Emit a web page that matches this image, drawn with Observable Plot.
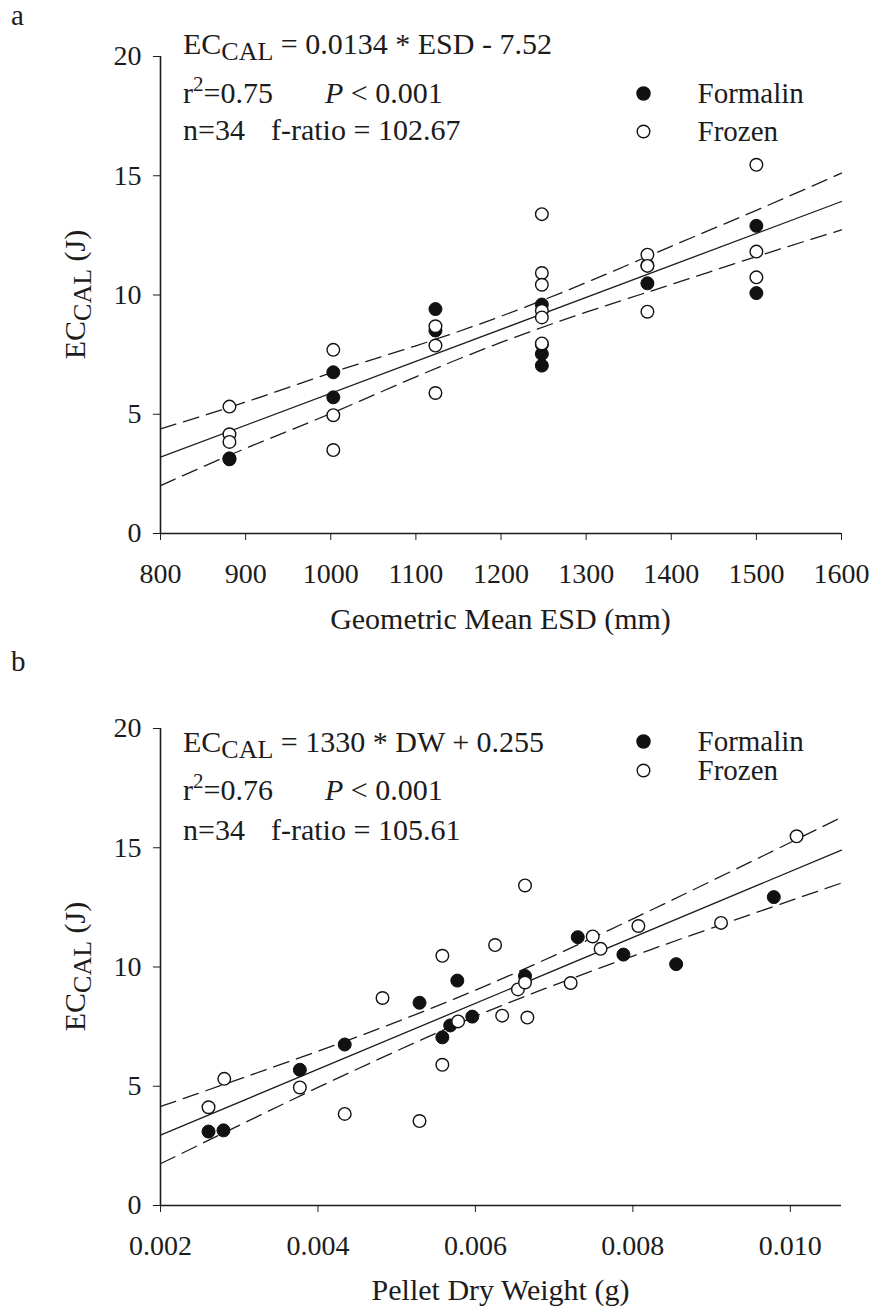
<!DOCTYPE html>
<html>
<head>
<meta charset="utf-8">
<script src="https://cdn.jsdelivr.net/npm/d3@7"></script>
<script src="https://cdn.jsdelivr.net/npm/@observablehq/plot@0.6"></script>
<style>
  html, body { margin: 0; padding: 0; background: #fff; }
  #wrap { position: relative; width: 877px; height: 1308px; overflow: hidden; }
  .panel { position: absolute; left: 0; }
  svg text { white-space: pre; }
</style>
</head>
<body>
<div id="wrap"></div>
<script>
// ---------------- DATA ----------------
// Panel a: energy content vs geometric mean ESD
const aFormalinESD = [881, 881, 1003, 1003, 1123, 1123, 1248, 1248, 1248, 1248, 1372, 1372, 1500, 1500];
const aFormalinEC  = [3.11, 3.15, 6.76, 5.71, 9.41, 8.51, 9.60, 7.92, 7.53, 7.04, 10.49, 11.25, 12.90, 10.08];
const aFrozenESD   = [881, 881, 881, 1003, 1003, 1003, 1123, 1123, 1123, 1248, 1248, 1248, 1248, 1248, 1248, 1372, 1372, 1372, 1500, 1500, 1500];
const aFrozenEC    = [5.32, 4.16, 3.84, 7.70, 4.96, 3.50, 8.69, 7.88, 5.89, 13.39, 10.92, 10.43, 9.34, 9.06, 7.97, 11.69, 11.22, 9.30, 15.46, 11.82, 10.74];
const aFitX   = [800, 1600];
const aFitY   = [3.20, 13.92];
const aBandX  = [800, 900, 1000, 1100, 1200, 1300, 1400, 1500, 1600];
const aBandHi = [4.39, 5.51, 6.73, 7.87, 9.11, 10.52, 12.04, 13.55, 15.11];
const aBandLo = [2.01, 3.57, 5.03, 6.57, 8.01, 9.28, 10.44, 11.61, 12.73];
const aXTicks = [800, 900, 1000, 1100, 1200, 1300, 1400, 1500, 1600];

// Panel b: energy content vs pellet dry weight
const bFormalinDW = [0.00261, 0.00280, 0.00377, 0.00434, 0.00529, 0.00558, 0.00568, 0.00577, 0.00596, 0.00663, 0.00730, 0.00788, 0.00855, 0.00979];
const bFormalinEC = [3.10, 3.15, 5.69, 6.75, 8.50, 7.05, 7.55, 9.43, 7.92, 9.62, 11.25, 10.52, 10.12, 12.93];
const bFrozenDW   = [0.00261, 0.00281, 0.00377, 0.00434, 0.00482, 0.00529, 0.00558, 0.00558, 0.00578, 0.00625, 0.00634, 0.00654, 0.00663, 0.00663, 0.00666, 0.00721, 0.00749, 0.00759, 0.00807, 0.00912, 0.01008];
const bFrozenEC   = [4.12, 5.31, 4.95, 3.84, 8.70, 3.54, 10.47, 5.90, 7.72, 10.92, 7.96, 9.06, 13.42, 9.35, 7.88, 9.33, 11.28, 10.76, 11.72, 11.85, 15.48];
const bFitX   = [0.002, 0.01065];
const bFitY   = [2.95, 14.90];
const bBandX  = [0.002, 0.003, 0.004, 0.005, 0.006, 0.007, 0.008, 0.009, 0.010, 0.01065];
const bBandHi = [4.15, 5.30, 6.47, 7.70, 9.03, 10.48, 12.02, 13.61, 15.22, 16.28];
const bBandLo = [1.75, 3.36, 4.95, 6.48, 7.93, 9.24, 10.46, 11.63, 12.78, 13.52];
const bXTicks = [0.002, 0.004, 0.006, 0.008, 0.010];

const yTicks = [0, 5, 10, 15, 20];
const seriesNames = ["Formalin", "Frozen"];

// Text
const panelLetters = ["a", "b"];
const aEq = ["EC", "CAL", " = 0.0134 * ESD - 7.52"];
const bEq = ["EC", "CAL", " = 1330 * DW + 0.255"];
const aStats = ["0.75", "0.001", "34", "102.67"];
const bStats = ["0.76", "0.001", "34", "105.61"];
const xTitles = ["Geometric Mean ESD (mm)", "Pellet Dry Weight (g)"];
const yTitle = ["EC", "CAL", " (J)"];

// ---------------- DRAW ----------------
const FONT = '"Liberation Serif", "Times New Roman", Times, serif';
const INK = "#1c1c1c";

function zip(xs, ys) { return xs.map((x, i) => ({x, y: ys[i]})); }

function addText(svg, x, y, parts, opts = {}) {
  const t = d3.select(svg).append("text")
    .attr("font-family", FONT)
    .attr("fill", INK)
    .attr("text-anchor", opts.anchor || "start");
  if (opts.rotate) t.attr("transform", `translate(${x},${y}) rotate(${opts.rotate})`);
  else t.attr("x", x).attr("y", y);
  for (const p of parts) {
    const s = t.append("tspan").text(p.t).attr("font-size", p.s || 30);
    if (p.dy) s.attr("dy", p.dy);
    if (p.x != null) s.attr("x", p.x);
    if (p.i) s.attr("font-style", "italic");
  }
  return t;
}

function buildPanel(cfg) {
  const formalin = zip(cfg.fx, cfg.fy);
  const frozen = zip(cfg.zx, cfg.zy);
  const fit = zip(cfg.fitX, cfg.fitY);
  const band = cfg.bandX.map((x, i) => ({x, hi: cfg.bandHi[i], lo: cfg.bandLo[i]}));
  const plot = Plot.plot({
    width: 877,
    height: 654,
    marginTop: cfg.mt,
    marginBottom: cfg.mb,
    marginLeft: 160,
    marginRight: 36,
    style: {fontFamily: FONT, fontSize: "28px", color: INK, background: "#fff", overflow: "visible"},
    x: {domain: cfg.xDomain, ticks: cfg.xTicks, tickFormat: cfg.xFormat, tickSize: 7, tickPadding: 23, label: null},
    y: {domain: [0, 20], ticks: yTicks, tickSize: 7, tickPadding: 12, label: null},
    marks: [
      Plot.ruleX([cfg.xDomain[0]], {stroke: INK, strokeWidth: 1.6}),
      Plot.ruleY([0], {stroke: INK, strokeWidth: 1.6}),
      Plot.line(band, {x: "x", y: "hi", curve: "natural", stroke: INK, strokeWidth: 1.3, strokeDasharray: "16,8"}),
      Plot.line(band, {x: "x", y: "lo", curve: "natural", stroke: INK, strokeWidth: 1.3, strokeDasharray: "16,8"}),
      Plot.line(fit, {x: "x", y: "y", stroke: INK, strokeWidth: 1.3}),
      Plot.dot(formalin, {x: "x", y: "y", r: 6.5, fill: "#111", stroke: "#111", strokeWidth: 1}),
      Plot.dot(frozen, {x: "x", y: "y", r: 6.3, fill: "#fff", stroke: "#111", strokeWidth: 1.4}),
      Plot.dot([seriesNames[0]], {frameAnchor: "top-left", dx: 483, dy: cfg.leg[0], r: 6.5, fill: "#111", stroke: "#111"}),
      Plot.dot([seriesNames[1]], {frameAnchor: "top-left", dx: 483, dy: cfg.leg[1], r: 6.3, fill: "#fff", stroke: "#111", strokeWidth: 1.4}),
      Plot.text([seriesNames[0]], {frameAnchor: "top-left", dx: 537, dy: cfg.leg[0], text: d => d, textAnchor: "start", lineAnchor: "middle", fontSize: 29, fill: INK}),
      Plot.text([seriesNames[1]], {frameAnchor: "top-left", dx: 537, dy: cfg.leg[1], text: d => d, textAnchor: "start", lineAnchor: "middle", fontSize: 29, fill: INK})
    ]
  });
  const svg = plot.tagName.toLowerCase() === "svg" ? plot : plot.querySelector("svg");
  // panel letter
  addText(svg, 11, cfg.letterY, [{t: cfg.letter, s: 29}]);
  // equation block
  const eq = cfg.eq, st = cfg.stats, L = cfg.lines;
  addText(svg, 183, L[0], [{t: eq[0]}, {t: eq[1], s: 26, dy: 6}, {t: eq[2], dy: -6}]);
  addText(svg, 183, L[1], [{t: "r"}, {t: "2", s: 21, dy: -12}, {t: "=" + st[0], dy: 12}, {t: "P", i: true, x: 325}, {t: " < " + st[1]}]);
  addText(svg, 183, L[2], [{t: "n=" + st[2]}, {t: "f-ratio = " + st[3], x: 271}]);
  // axis titles
  addText(svg, 500.5, cfg.xTitleY, [{t: cfg.xTitle}], {anchor: "middle"});
  addText(svg, 85, (cfg.mt + (654 - cfg.mb)) / 2, [{t: yTitle[0]}, {t: yTitle[1], s: 26, dy: 6}, {t: yTitle[2], dy: -6}], {anchor: "middle", rotate: -90});
  return svg;
}

const wrap = document.getElementById("wrap");

const svgA = buildPanel({
  fx: aFormalinESD, fy: aFormalinEC, zx: aFrozenESD, zy: aFrozenEC,
  fitX: aFitX, fitY: aFitY, bandX: aBandX, bandHi: aBandHi, bandLo: aBandLo,
  xDomain: [800, 1600], xTicks: aXTicks, xFormat: d => String(d),
  mt: 56, mb: 121, leg: [37, 75],
  letter: panelLetters[0], letterY: 25,
  eq: aEq, stats: aStats, lines: [54, 103, 140],
  xTitle: xTitles[0], xTitleY: 629
});
svgA.classList.add("panel");
svgA.style.top = "0px";
wrap.appendChild(svgA);

const svgB = buildPanel({
  fx: bFormalinDW, fy: bFormalinEC, zx: bFrozenDW, zy: bFrozenEC,
  fitX: bFitX, fitY: bFitY, bandX: bBandX, bandHi: bBandHi, bandLo: bBandLo,
  xDomain: [0.002, 0.01065], xTicks: bXTicks, xFormat: d3.format(".3f"),
  mt: 74, mb: 103, leg: [13, 42],
  letter: panelLetters[1], letterY: 17,
  eq: bEq, stats: bStats, lines: [98, 146, 186],
  xTitle: xTitles[1], xTitleY: 646
});
svgB.classList.add("panel");
svgB.style.top = "654px";
wrap.appendChild(svgB);
</script>
</body>
</html>
